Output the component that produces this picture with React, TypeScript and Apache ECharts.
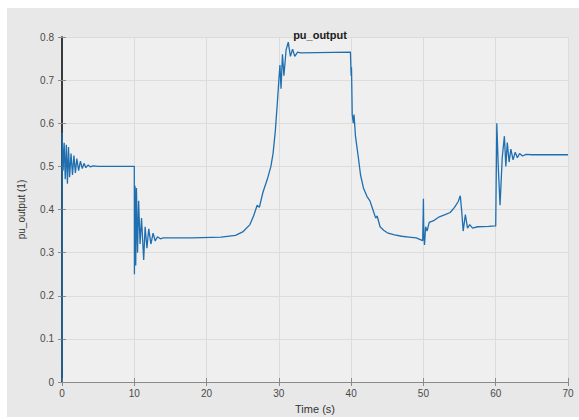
import React, { useEffect, useRef } from "react";
import * as echarts from "echarts";

const titleText = "pu_output";
const xName = "Time (s)";
const yName = "pu_output (1)";
const xTicks = [0, 10, 20, 30, 40, 50, 60, 70];
const yTicks = [0, 0.1, 0.2, 0.3, 0.4, 0.5, 0.6, 0.7, 0.8];

const times = [
  0, 0.02, 0.15, 0.3, 0.45, 0.6, 0.75, 0.9, 1.05, 1.25, 1.45, 1.65, 1.85, 2.05, 2.3, 2.55, 2.8, 3.05, 3.3, 3.6, 3.9, 4.3, 5,
  10, 10.02, 10.1, 10.2, 10.3, 10.45, 10.6, 10.8, 11.0, 11.3, 11.5, 11.75, 12.0, 12.3, 12.6, 12.9, 13.2, 13.6, 14, 18, 22, 24,
  25, 26, 26.5, 27, 27.3, 27.8, 28.4, 28.9, 29.2, 29.5, 29.8, 30.0, 30.15, 30.3, 30.5, 30.7, 31.0, 31.3, 31.6, 31.9, 32.2, 32.6, 33,
  39.9, 40.0, 40.05, 40.15, 40.3, 40.4, 40.6, 41, 41.3, 41.7, 42.2, 42.6, 43, 43.4, 43.6, 44, 44.5, 45, 46, 47, 48, 49, 49.9,
  50.0, 50.05, 50.15, 50.3, 50.5, 50.8, 51.5, 52.2, 53, 53.7, 54.3, 54.8, 55.1, 55.3, 55.5, 55.8, 56.1, 56.4, 56.8, 57.5, 59, 60.0,
  60.15, 60.35, 60.6, 60.9, 61.2, 61.4, 61.6, 61.85, 62.1, 62.4, 62.7, 63.0, 63.3, 63.7, 64.2, 65, 70,
];

const values = [
  0, 0.578, 0.49, 0.555, 0.47, 0.55, 0.46, 0.545, 0.475, 0.53, 0.48, 0.525, 0.485, 0.518, 0.49, 0.512, 0.495, 0.507, 0.497, 0.503, 0.499, 0.501, 0.5,
  0.5, 0.25, 0.455, 0.27, 0.45, 0.3, 0.42, 0.32, 0.38, 0.283, 0.36, 0.31, 0.355, 0.32, 0.345, 0.327, 0.337, 0.332, 0.334, 0.334, 0.336, 0.34,
  0.348, 0.365, 0.385, 0.41, 0.405, 0.44, 0.47, 0.5, 0.53, 0.58, 0.65, 0.7, 0.735, 0.68, 0.76, 0.71, 0.77, 0.788, 0.755, 0.772, 0.755, 0.765, 0.763,
  0.765, 0.71, 0.73, 0.62, 0.6, 0.62, 0.57, 0.52, 0.48, 0.45, 0.43, 0.42, 0.4, 0.38, 0.385, 0.36, 0.352, 0.346, 0.341, 0.338, 0.336, 0.334, 0.328,
  0.425, 0.34, 0.318, 0.36, 0.35, 0.37, 0.375, 0.383, 0.388, 0.393, 0.405, 0.418, 0.432, 0.395, 0.35, 0.388, 0.357, 0.365, 0.357, 0.36, 0.361, 0.362,
  0.6, 0.5, 0.41, 0.52, 0.57, 0.5, 0.555, 0.51, 0.54, 0.515, 0.533, 0.52, 0.53, 0.524, 0.528, 0.527, 0.527,
];

export default function App() {
  const ref = useRef<HTMLDivElement>(null);
  useEffect(() => {
    if (!ref.current) return;
    const chart = echarts.init(ref.current, undefined, { renderer: "svg" });
    const data = times.map((t, i) => [t, values[i]]);
    const font = "Liberation Sans, Arial, sans-serif";
    const labelStyle = { color: "#4a4a4a", fontSize: 10, fontFamily: font };
    chart.setOption({
      animation: false,
      backgroundColor: "transparent",
      title: {
        text: titleText,
        left: 315,
        textAlign: "center",
        top: 24,
        textStyle: { fontSize: 11, fontWeight: "bold", color: "#1a1a1a", fontFamily: font },
      },
      grid: {
        left: 62,
        right: 11,
        top: 37,
        bottom: 38,
        show: true,
        backgroundColor: "#efefef",
        borderWidth: 0,
      },
      xAxis: [
        {
          type: "value",
          min: 0,
          max: 70,
          interval: 10,
          name: xName,
          nameLocation: "middle",
          nameGap: 21,
          nameTextStyle: { color: "#333", fontSize: 11, fontFamily: font },
          axisLine: { show: true, lineStyle: { color: "#8a8a8a", width: 1 } },
          axisTick: { show: true, inside: true, length: 4, lineStyle: { color: "#8a8a8a" } },
          axisLabel: { ...labelStyle, margin: 6 },
          splitLine: { show: true, lineStyle: { color: "#dcdcdc", width: 1 } },
        },
        {
          type: "value",
          position: "top",
          min: 0,
          max: 70,
          interval: 10,
          axisLine: { show: true, lineStyle: { color: "#8a8a8a", width: 1 } },
          axisTick: { show: true, inside: true, length: 4, lineStyle: { color: "#8a8a8a" } },
          axisLabel: { show: false },
          splitLine: { show: false },
        },
      ],
      yAxis: [
        {
          type: "value",
          min: 0,
          max: 0.8,
          interval: 0.1,
          name: yName,
          nameLocation: "middle",
          nameGap: 36,
          nameTextStyle: { color: "#333", fontSize: 10, fontFamily: font },
          axisLine: { show: true, lineStyle: { color: "#3a4a5a", width: 1.5 } },
          axisTick: { show: true, inside: true, length: 4, lineStyle: { color: "#8a8a8a" } },
          axisLabel: {
            ...labelStyle,
            margin: 8,
            formatter: (v: number) => (v === 0 ? "0" : v.toFixed(1)),
          },
          splitLine: { show: true, lineStyle: { color: "#dcdcdc", width: 1 } },
        },
        {
          type: "value",
          position: "right",
          min: 0,
          max: 0.8,
          interval: 0.1,
          axisLine: { show: true, lineStyle: { color: "#2a2a2a", width: 1.5 } },
          axisTick: { show: true, inside: true, length: 4, lineStyle: { color: "#8a8a8a" } },
          axisLabel: { show: false },
          splitLine: { show: false },
        },
      ],
      series: [
        {
          type: "line",
          data,
          xAxisIndex: 0,
          yAxisIndex: 0,
          showSymbol: false,
          symbol: "none",
          lineStyle: { color: "#1f6fb0", width: 1.3 },
          z: 3,
        },
      ],
    });
    return () => chart.dispose();
  }, []);
  return (
    <div style={{ position: "fixed", left: 0, top: 0, width: 579, height: 420, background: "#ffffff" }}>
      <div style={{ position: "absolute", left: 7, top: 8, right: 0, bottom: 3, background: "#e8e8e8" }} />
      <div ref={ref} style={{ position: "absolute", left: 0, top: 0, width: 579, height: 420 }} />
    </div>
  );
}
